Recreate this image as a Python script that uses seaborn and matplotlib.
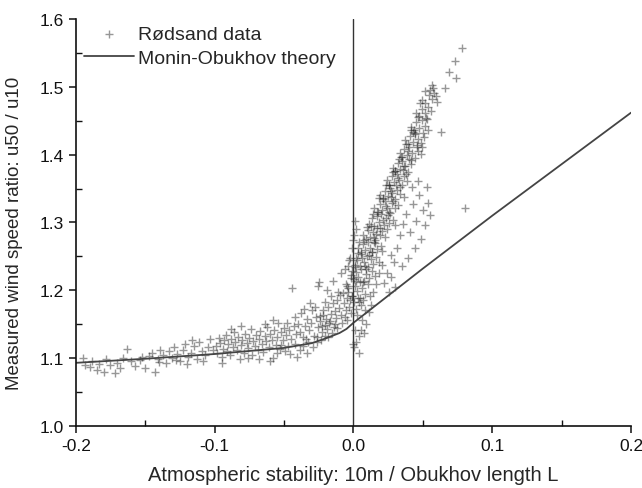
import matplotlib
matplotlib.use("Agg")
import matplotlib.pyplot as plt
import pandas as pd
import seaborn as sns
from matplotlib.ticker import MultipleLocator

far_unstable = [
    (-0.195, 1.100), (-0.193, 1.090), (-0.190, 1.087), (-0.188, 1.095), (-0.185, 1.082), (-0.183, 1.092),
    (-0.180, 1.080), (-0.178, 1.098), (-0.175, 1.090), (-0.172, 1.078), (-0.170, 1.093), (-0.166, 1.100),
    (-0.163, 1.113), (-0.160, 1.095), (-0.157, 1.088), (-0.154, 1.097), (-0.150, 1.085), (-0.147, 1.103),
    (-0.145, 1.108), (-0.143, 1.079), (-0.141, 1.098), (-0.139, 1.112), (-0.137, 1.104), (-0.135, 1.093),
    (-0.133, 1.110), (-0.131, 1.100), (-0.129, 1.117), (-0.127, 1.106), (-0.125, 1.096), (-0.123, 1.112),
    (-0.121, 1.121), (-0.119, 1.102), (-0.117, 1.108), (-0.115, 1.118), (-0.113, 1.099), (-0.111, 1.124),
    (-0.109, 1.110), (-0.107, 1.104), (-0.105, 1.116), (-0.103, 1.128), (-0.101, 1.112), (-0.120, 1.092),
    (-0.128, 1.097), (-0.152, 1.102), (-0.168, 1.086), (-0.140, 1.094), (-0.116, 1.126), (-0.108, 1.096),
]
unstable = [
    (-0.099, 1.118), (-0.098, 1.107), (-0.097, 1.130), (-0.096, 1.122), (-0.095, 1.101), (-0.094, 1.114),
    (-0.093, 1.126), (-0.092, 1.134), (-0.091, 1.110), (-0.090, 1.121), (-0.089, 1.104), (-0.088, 1.128),
    (-0.087, 1.117), (-0.086, 1.139), (-0.085, 1.124), (-0.084, 1.112), (-0.083, 1.131), (-0.082, 1.098),
    (-0.081, 1.119), (-0.080, 1.127), (-0.079, 1.108), (-0.078, 1.136), (-0.077, 1.122), (-0.076, 1.115),
    (-0.075, 1.130), (-0.074, 1.143), (-0.073, 1.104), (-0.072, 1.125), (-0.071, 1.118), (-0.070, 1.134),
    (-0.069, 1.112), (-0.068, 1.128), (-0.067, 1.140), (-0.066, 1.121), (-0.065, 1.109), (-0.064, 1.132),
    (-0.063, 1.125), (-0.062, 1.146), (-0.061, 1.117), (-0.060, 1.136), (-0.059, 1.127), (-0.058, 1.100),
    (-0.057, 1.141), (-0.056, 1.120), (-0.055, 1.131), (-0.054, 1.152), (-0.053, 1.114), (-0.052, 1.138),
    (-0.051, 1.126), (-0.050, 1.145), (-0.095, 1.093), (-0.081, 1.147), (-0.068, 1.098), (-0.060, 1.095),
    (-0.055, 1.108), (-0.076, 1.100), (-0.088, 1.143), (-0.064, 1.150), (-0.058, 1.156), (-0.052, 1.120),
]
near_unstable = [
    (-0.0487, 1.134), (-0.0462, 1.142), (-0.0448, 1.128), (-0.0431, 1.147), (-0.0414, 1.136), (-0.0396, 1.151),
    (-0.0382, 1.139), (-0.0365, 1.131), (-0.0349, 1.148), (-0.0333, 1.157), (-0.0318, 1.141), (-0.0302, 1.152),
    (-0.0287, 1.133), (-0.0271, 1.161), (-0.0256, 1.146), (-0.0239, 1.155), (-0.0224, 1.138), (-0.0208, 1.149),
    (-0.0192, 1.143), (-0.0171, 1.154), (-0.0153, 1.137), (-0.0134, 1.151), (-0.0116, 1.144), (-0.0478, 1.152),
    (-0.0423, 1.161), (-0.0377, 1.166), (-0.0341, 1.128), (-0.0296, 1.171), (-0.0264, 1.124), (-0.0216, 1.163),
    (-0.0183, 1.131), (-0.0441, 1.203), (-0.0357, 1.173), (-0.0311, 1.181), (-0.0279, 1.175),
    (-0.0472, 1.118), (-0.0455, 1.106), (-0.0419, 1.121), (-0.0388, 1.112), (-0.0361, 1.118), (-0.0327, 1.124),
    (-0.0292, 1.116), (-0.0263, 1.131), (-0.0237, 1.127), (-0.0205, 1.132), (-0.0493, 1.111), (-0.0404, 1.101),
    (-0.0335, 1.108),
]
neutral_left = [
    (-0.0243, 1.162), (-0.0221, 1.171), (-0.0197, 1.158), (-0.0183, 1.176), (-0.0164, 1.165), (-0.0148, 1.181),
    (-0.0131, 1.169), (-0.0117, 1.186), (-0.0102, 1.174), (-0.0088, 1.163), (-0.0071, 1.181), (-0.0057, 1.171),
    (-0.0043, 1.188), (-0.0029, 1.176), (-0.0014, 1.166), (0.0002, 1.183), (0.0017, 1.172), (0.0034, 1.189),
    (0.0051, 1.178), (0.0068, 1.186), (-0.0206, 1.183), (-0.0158, 1.191), (-0.0124, 1.159), (-0.0096, 1.193),
    (-0.0063, 1.161), (-0.0036, 1.197), (-0.0008, 1.191), (0.0025, 1.163), (-0.0175, 1.152), (-0.0227, 1.148),
    (-0.0139, 1.146), (-0.0079, 1.152), (-0.0049, 1.156), (-0.0111, 1.198), (-0.0189, 1.201), (-0.0252, 1.207),
    (-0.0248, 1.212), (-0.0146, 1.214), (-0.0092, 1.225), (-0.0061, 1.232), (-0.0032, 1.245), (-0.0021, 1.218),
    (-0.0044, 1.206), (-0.0012, 1.262), (0.0003, 1.281), (-0.0028, 1.248), (0.0008, 1.302), (-0.0004, 1.274),
    (-0.0036, 1.236), (0.0015, 1.291),
]
neutral_right = [
    (-0.0072, 1.196), (-0.0041, 1.203), (-0.0013, 1.192), (0.0008, 1.207), (0.0027, 1.199), (0.0049, 1.188),
    (0.0063, 1.204), (0.0085, 1.195), (0.0102, 1.209), (0.0117, 1.191), (-0.0056, 1.209), (0.0016, 1.214),
    (0.0038, 1.183), (0.0071, 1.212), (-0.0024, 1.185),
    (-0.0018, 1.222), (0.0004, 1.216), (0.0021, 1.227), (0.0036, 1.219), (0.0058, 1.231), (0.0074, 1.214),
    (0.0093, 1.224), (0.0111, 1.218), (0.0134, 1.229), (0.0012, 1.234), (0.0047, 1.212), (0.0082, 1.236),
    (0.0152, 1.221), (-0.0009, 1.229),
    (0.0011, 1.238), (0.0029, 1.244), (0.0046, 1.236), (0.0061, 1.248), (0.0079, 1.241), (0.0096, 1.251),
    (0.0108, 1.235), (0.0124, 1.246), (0.0143, 1.239), (0.0166, 1.249), (0.0052, 1.254), (0.0088, 1.232),
    (0.0035, 1.255), (0.0131, 1.256), (0.0019, 1.247), (0.0181, 1.241),
    (0.0006, 1.116), (0.0022, 1.124), (0.0041, 1.132), (0.0058, 1.141), (0.0074, 1.137), (0.0094, 1.151),
    (0.0038, 1.108), (-0.0004, 1.121), (0.0013, 1.142), (0.0065, 1.156), (0.0109, 1.168), (0.0125, 1.178),
    (0.0082, 1.171),
]
stable = [
    (0.0032, 1.262), (0.0051, 1.257), (0.0068, 1.268), (0.0087, 1.259), (0.0103, 1.271), (0.0121, 1.263),
    (0.0137, 1.256), (0.0155, 1.269), (0.0172, 1.261), (0.0196, 1.266), (0.0076, 1.274), (0.0112, 1.252),
    (0.0147, 1.277), (0.0043, 1.271), (0.0209, 1.258),
    (0.0069, 1.281), (0.0088, 1.276), (0.0104, 1.289), (0.0119, 1.279), (0.0138, 1.286), (0.0154, 1.274),
    (0.0171, 1.292), (0.0189, 1.282), (0.0207, 1.288), (0.0231, 1.279), (0.0128, 1.295), (0.0162, 1.283),
    (0.0097, 1.293), (0.0244, 1.291), (0.0146, 1.271),
    (0.0113, 1.298), (0.0132, 1.306), (0.0149, 1.295), (0.0167, 1.309), (0.0184, 1.301), (0.0202, 1.312),
    (0.0219, 1.296), (0.0238, 1.307), (0.0257, 1.299), (0.0283, 1.304), (0.0176, 1.316), (0.0211, 1.303),
    (0.0193, 1.292), (0.0141, 1.313), (0.0266, 1.314), (0.0301, 1.297),
    (0.0151, 1.321), (0.0172, 1.316), (0.0188, 1.327), (0.0206, 1.319), (0.0224, 1.331), (0.0241, 1.322),
    (0.0259, 1.315), (0.0276, 1.328), (0.0297, 1.321), (0.0322, 1.326), (0.0214, 1.334), (0.0249, 1.311),
    (0.0181, 1.336), (0.0268, 1.337), (0.0233, 1.325),
]
more_stable = [
    (0.0192, 1.341), (0.0213, 1.336), (0.0229, 1.347), (0.0247, 1.339), (0.0263, 1.351), (0.0281, 1.343),
    (0.0298, 1.335), (0.0317, 1.348), (0.0339, 1.342), (0.0364, 1.338), (0.0254, 1.356), (0.0288, 1.331),
    (0.0236, 1.355), (0.0306, 1.356), (0.0272, 1.346),
    (0.0241, 1.362), (0.0259, 1.356), (0.0276, 1.368), (0.0294, 1.359), (0.0311, 1.371), (0.0328, 1.363),
    (0.0347, 1.355), (0.0366, 1.369), (0.0389, 1.361), (0.0302, 1.376), (0.0337, 1.352), (0.0284, 1.374),
    (0.0356, 1.377), (0.0318, 1.366),
    (0.0283, 1.381), (0.0301, 1.376), (0.0318, 1.388), (0.0336, 1.379), (0.0353, 1.391), (0.0371, 1.383),
    (0.0392, 1.375), (0.0416, 1.386), (0.0344, 1.396), (0.0378, 1.372), (0.0327, 1.394), (0.0403, 1.393),
    (0.0361, 1.384),
    (0.0332, 1.402), (0.0351, 1.396), (0.0367, 1.408), (0.0385, 1.399), (0.0402, 1.411), (0.0421, 1.403),
    (0.0443, 1.395), (0.0468, 1.406), (0.0489, 1.401), (0.0376, 1.415), (0.0412, 1.392), (0.0456, 1.414),
    (0.0394, 1.405), (0.0497, 1.412),
]
very_stable = [
    (0.0371, 1.421), (0.0392, 1.416), (0.0409, 1.428), (0.0427, 1.419), (0.0446, 1.431), (0.0467, 1.423),
    (0.0488, 1.417), (0.0511, 1.426), (0.0418, 1.436), (0.0455, 1.412), (0.0432, 1.433), (0.0502, 1.432),
    (0.0414, 1.441), (0.0433, 1.436), (0.0451, 1.448), (0.0472, 1.439), (0.0491, 1.451), (0.0512, 1.443),
    (0.0534, 1.437), (0.0462, 1.456), (0.0443, 1.432), (0.0521, 1.454),
    (0.0452, 1.462), (0.0473, 1.457), (0.0494, 1.468), (0.0516, 1.461), (0.0538, 1.471), (0.0557, 1.464),
    (0.0483, 1.476), (0.0527, 1.453),
    (0.0496, 1.481), (0.0518, 1.476), (0.0541, 1.488), (0.0563, 1.482), (0.0584, 1.491), (0.0552, 1.496),
    (0.0605, 1.478), (0.0574, 1.499),
    (0.0512, 1.494), (0.0566, 1.503), (0.0598, 1.486), (0.0663, 1.498), (0.0689, 1.522), (0.0738, 1.513),
    (0.0733, 1.538), (0.0781, 1.558), (0.0634, 1.434), (0.0802, 1.321),
]
stable_tail = [
    (0.0205, 1.238), (0.0243, 1.226), (0.0268, 1.252), (0.0295, 1.241), (0.0221, 1.211), (0.0274, 1.219),
    (0.0312, 1.262), (0.0336, 1.281), (0.0358, 1.298), (0.0381, 1.312), (0.0405, 1.286), (0.0427, 1.327),
    (0.0449, 1.302), (0.0473, 1.341), (0.0498, 1.318), (0.0517, 1.296), (0.0536, 1.329), (0.0551, 1.311),
    (0.0486, 1.275), (0.0442, 1.262), (0.0395, 1.248), (0.0352, 1.236), (0.0465, 1.361), (0.0529, 1.352),
    (0.0419, 1.353), (0.0302, 1.205), (0.0257, 1.198), (0.0186, 1.226), (0.0162, 1.209), (0.0141, 1.198),
]

# Monin-Obukhov theory curve
theory_x = [-0.2, -0.15, -0.1, -0.05, -0.03, -0.02, -0.01, -0.005, 0.0, 0.01, 0.02, 0.05, 0.1, 0.15, 0.2]
theory_y = [1.093, 1.099, 1.106, 1.115, 1.122, 1.129, 1.137, 1.143, 1.152, 1.168, 1.184, 1.232, 1.310, 1.386, 1.462]

all_points = (far_unstable + unstable + near_unstable + neutral_left + neutral_right
              + stable + more_stable + very_stable + stable_tail)
df = pd.DataFrame(all_points, columns=["stability", "ratio"])

sns.set_style("ticks")
plt.rcParams["font.family"] = ["Liberation Sans", "DejaVu Sans"]

fig = plt.figure(figsize=(6.42, 4.89), dpi=100)
ax = fig.add_axes([0.118, 0.127, 0.865, 0.832])

sns.scatterplot(data=df, x="stability", y="ratio", marker="+", color="#1a1a1a",
                s=34, linewidth=1.0, alpha=0.45, label="Rødsand data", ax=ax)
sns.lineplot(x=theory_x, y=theory_y, color="#444444", linewidth=1.3,
             label="Monin-Obukhov theory", ax=ax)
ax.axvline(0, color="#333333", linewidth=1.0)

ax.set_xlim(-0.2, 0.2)
ax.set_ylim(1.0, 1.6)
ax.xaxis.set_major_locator(MultipleLocator(0.1))
ax.xaxis.set_minor_locator(MultipleLocator(0.05))
ax.yaxis.set_major_locator(MultipleLocator(0.1))
ax.yaxis.set_minor_locator(MultipleLocator(0.05))
ax.xaxis.set_major_formatter(plt.FormatStrFormatter("%.1f"))
ax.yaxis.set_major_formatter(plt.FormatStrFormatter("%.1f"))
ax.tick_params(which="major", direction="out", length=5, width=1.1, labelsize=12.5, colors="#111111")
ax.tick_params(which="minor", direction="in", length=4, width=1.0, colors="#111111")

sns.despine(ax=ax)
for s in ["left", "bottom"]:
    ax.spines[s].set_linewidth(1.2)
    ax.spines[s].set_color("#111111")

ax.set_xlabel("Atmospheric stability: 10m / Obukhov length L", fontsize=14.5, labelpad=9)
ax.set_ylabel("Measured wind speed ratio: u50 / u10", fontsize=13.5)
ax.yaxis.set_label_coords(-0.095, 0.475)

leg = ax.legend(loc="upper left", bbox_to_anchor=(0.0, 1.003), frameon=False, fontsize=14,
                handlelength=2.6, handletextpad=0.2, borderaxespad=0.0, labelspacing=0.3)

fig.savefig("out.png", dpi=100)
